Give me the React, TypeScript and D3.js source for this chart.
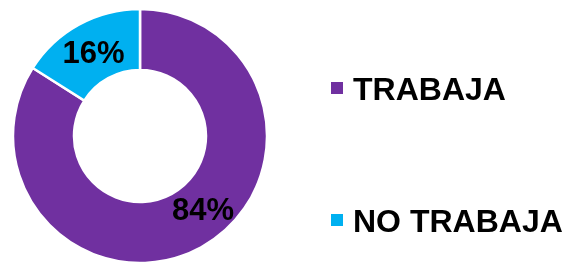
import { useEffect, useRef } from "react";
import * as d3 from "d3";

const categories = ["TRABAJA", "NO TRABAJA"];
const values = [84, 16];
const labels = ["84%", "16%"];
const colors = ["#7030A0", "#00B0F0"];
// small angular nudge for the label (degrees), as in the original layout
const labelNudge = [-12, 0];

const App = () => {
  const ref = useRef<SVGSVGElement | null>(null);

  useEffect(() => {
    const width = 563,
      height = 262;
    const cx = 140,
      cy = 136,
      outerR = 127,
      innerR = 66;

    const svg = d3.select(ref.current);
    svg.selectAll("*").remove();
    svg.attr("width", width).attr("height", height);

    const data = categories.map((c, i) => ({ name: c, value: values[i], label: labels[i], color: colors[i], nudge: labelNudge[i] }));

    const pie = d3
      .pie<any>()
      .sort(null)
      .value((d) => d.value);
    const arcs = pie(data);

    const arc = d3.arc<any>().innerRadius(innerR).outerRadius(outerR);

    const chart = svg.append("g").attr("transform", `translate(${cx},${cy})`);

    chart
      .selectAll("path")
      .data(arcs)
      .join("path")
      .attr("d", arc)
      .attr("fill", (d) => d.data.color)
      .attr("stroke", "white")
      .attr("stroke-width", 2.5);

    const labelR = (innerR + outerR) / 2;
    chart
      .selectAll("text.pct")
      .data(arcs)
      .join("text")
      .attr("class", "pct")
      .attr("x", (d) => {
        const a = (d.startAngle + d.endAngle) / 2 + (d.data.nudge * Math.PI) / 180;
        return labelR * Math.sin(a);
      })
      .attr("y", (d) => {
        const a = (d.startAngle + d.endAngle) / 2 + (d.data.nudge * Math.PI) / 180;
        return -labelR * Math.cos(a);
      })
      .attr("dy", "0.36em")
      .attr("text-anchor", "middle")
      .style("font-family", "Liberation Sans, Arial, sans-serif")
      .style("font-weight", "bold")
      .style("font-size", "31px")
      .attr("fill", "black")
      .text((d) => d.data.label);

    // legend
    const legendY = d3.scaleOrdinal<string, number>().domain(categories).range([88, 220]);
    const legend = svg
      .append("g")
      .selectAll("g")
      .data(data)
      .join("g")
      .attr("transform", (d) => `translate(331,${legendY(d.name)})`);

    legend
      .append("rect")
      .attr("x", 0)
      .attr("y", -6)
      .attr("width", 12)
      .attr("height", 12)
      .attr("fill", (d) => d.color);

    legend
      .append("text")
      .attr("x", 22)
      .attr("y", 11.5)
      .style("font-family", "Liberation Sans, Arial, sans-serif")
      .style("font-weight", "bold")
      .style("font-size", "32px")
      .attr("fill", "black")
      .text((d) => d.name);
  }, []);

  return (
    <div style={{ position: "fixed", left: 0, top: 0 }}>
      <svg ref={ref}></svg>
    </div>
  );
};

export default App;
